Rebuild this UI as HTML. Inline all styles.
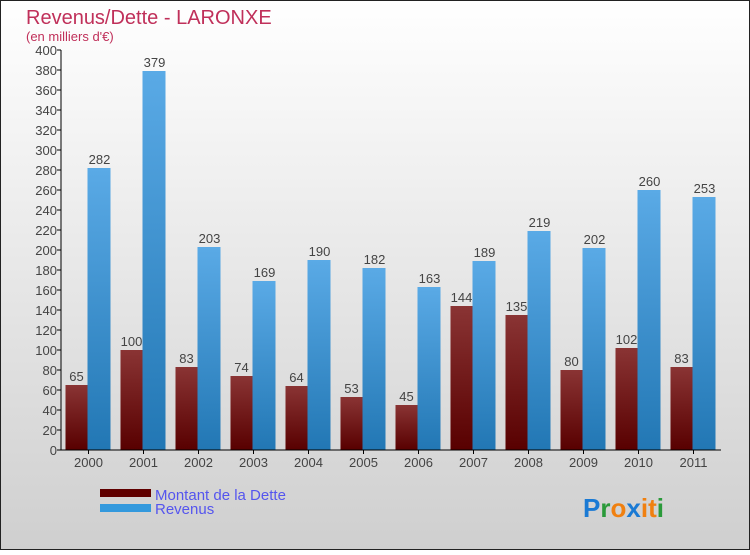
<!DOCTYPE html>
<html><head><meta charset="utf-8"><style>
body{margin:0;width:750px;height:550px;overflow:hidden;font-family:"Liberation Sans",sans-serif}
</style></head><body>
<svg width="750" height="550" xmlns="http://www.w3.org/2000/svg" id="chart">
<defs>
<linearGradient id="bg" x1="0" y1="0" x2="0" y2="1"><stop offset="0" stop-color="#ffffff"/><stop offset="1" stop-color="#cfcfcf"/></linearGradient>
<linearGradient id="gr" x1="0" y1="0" x2="0" y2="1"><stop offset="0" stop-color="#8a3434"/><stop offset="1" stop-color="#580000"/></linearGradient>
<linearGradient id="gb" x1="0" y1="0" x2="0" y2="1"><stop offset="0" stop-color="#5aaae6"/><stop offset="1" stop-color="#2277b4"/></linearGradient>
</defs>
<rect x="0.5" y="0.5" width="749" height="549" fill="url(#bg)" stroke="#222"/>
<text x="26" y="24" font-size="20" fill="#c0305a">Revenus/Dette - LARONXE</text>
<text x="26" y="41" font-size="13" fill="#c0305a">(en milliers d'€)</text>
<g id="plot"></g>
<g>
<rect x="100" y="489" width="51" height="8" fill="#600000"/>
<text x="155" y="500" font-size="15" fill="#5555ee">Montant de la Dette</text>
<rect x="100" y="504" width="51" height="8" fill="#3399dd"/>
<text x="155" y="514" font-size="15" fill="#5555ee">Revenus</text>
</g>
<text x="583" y="517" font-size="26" font-weight="bold"><tspan fill="#1a7ad4">P</tspan><tspan fill="#2a9a3a">r</tspan><tspan fill="#f08010">o</tspan><tspan fill="#1a7ad4">x</tspan><tspan fill="#f08010">i</tspan><tspan fill="#f08010">t</tspan><tspan fill="#2a9a3a">i</tspan></text>
</svg>
<script>
const years=["2000","2001","2002","2003","2004","2005","2006","2007","2008","2009","2010","2011"];
const dette=[65,100,83,74,64,53,45,144,135,80,102,83];
const revenus=[282,379,203,169,190,182,163,189,219,202,260,253];
const yTicks=[0,20,40,60,80,100,120,140,160,180,200,220,240,260,280,300,320,340,360,380,400];
const NS="http://www.w3.org/2000/svg";
const g=document.getElementById('plot');
const x0=61,x1=721,y0=450,y1=50,ymax=400;
const bw=(x1-x0)/years.length;
const Y=v=>y0-(v/ymax)*(y0-y1);
const X=i=>x0+bw*(i+0.5);
function mk(t,a,txt){const e=document.createElementNS(NS,t);for(const k in a)e.setAttribute(k,a[k]);if(txt!=null)e.textContent=txt;g.appendChild(e);return e;}
yTicks.forEach(v=>{
 let e=mk('line',{x1:x0-4,x2:x0,y1:Y(v),y2:Y(v),stroke:'#000'});
 
 
 e=mk('text',{x:x0-4,y:Y(v)+5,'font-size':13,'text-anchor':'end',fill:'#444'},v);
 
 
});
years.forEach((yr,i)=>{
 const c=X(i);
 let e=mk('rect',{x:c-23,y:Y(dette[i]),width:22,height:y0-Y(dette[i]),fill:'url(#gr)'});
 
 
 e=mk('rect',{x:c-1,y:Y(revenus[i]),width:23,height:y0-Y(revenus[i]),fill:'url(#gb)'});
 
 
 e=mk('text',{x:c-12,y:Y(dette[i])-4,'font-size':13,'text-anchor':'middle',fill:'#444'},dette[i]);
 
 
 e=mk('text',{x:c+11,y:Y(revenus[i])-4,'font-size':13,'text-anchor':'middle',fill:'#444'},revenus[i]);
 
 
 e=mk('line',{x1:c,x2:c,y1:y0,y2:y0+4,stroke:'#000'});
 
 
 e=mk('text',{x:c,y:y0+17,'font-size':13,'text-anchor':'middle',fill:'#444'},yr);
 
 
});
let a=mk('line',{x1:x0,x2:x0,y1:y1,y2:y0,stroke:'#000'});


a=mk('line',{x1:x0,x2:x1,y1:y0,y2:y0,stroke:'#000'});


</script>
</body></html>
